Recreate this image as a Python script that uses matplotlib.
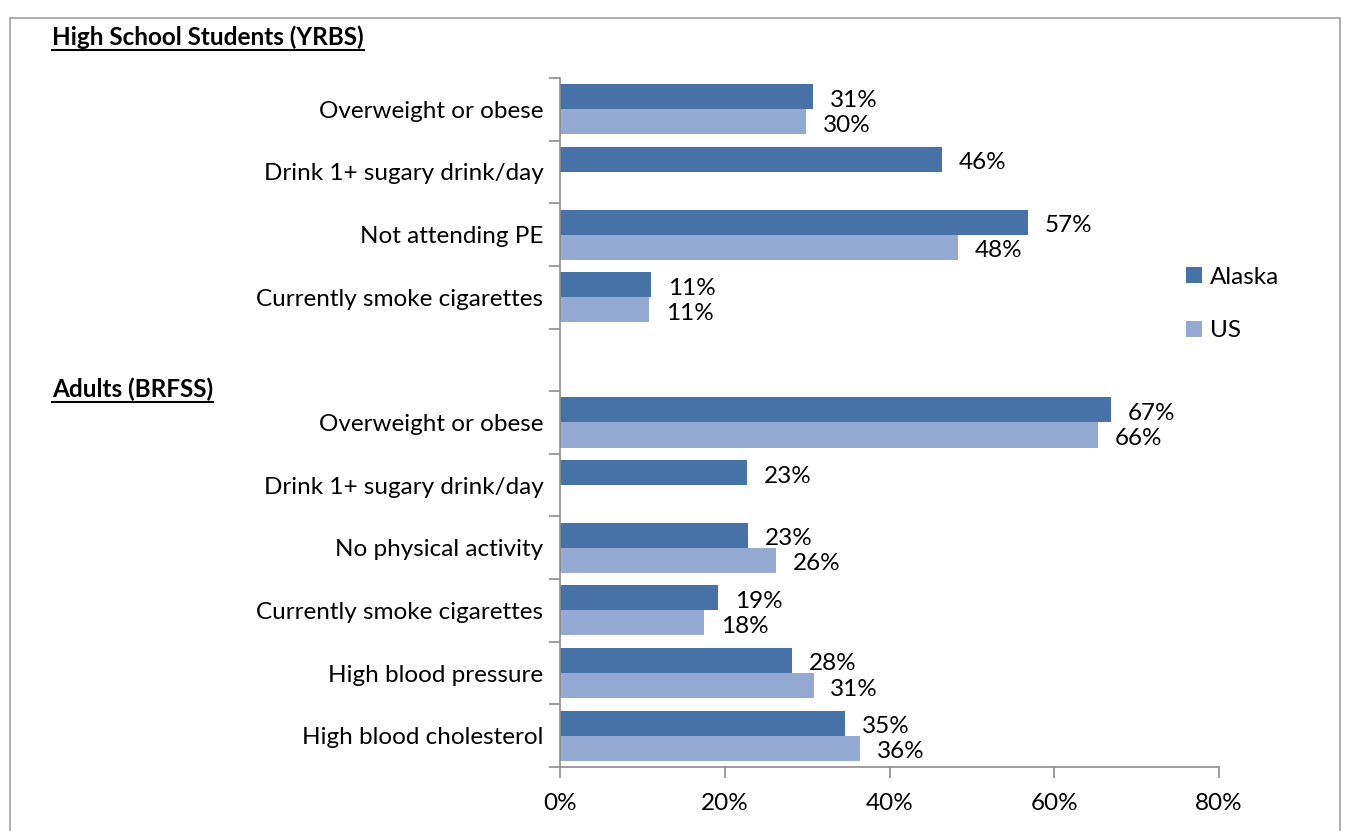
import numpy as np
import matplotlib
matplotlib.use("Agg")
import matplotlib.pyplot as plt
from matplotlib.patches import Rectangle
from matplotlib.lines import Line2D

plt.rcParams["font.family"] = ["Lato", "DejaVu Sans"]

# data (11 slots: 4 high school rows, 1 empty spacer, 6 adult rows)
categories = ["Overweight or obese", "Drink 1+ sugary drink/day", "Not attending PE",
              "Currently smoke cigarettes", "",
              "Overweight or obese", "Drink 1+ sugary drink/day", "No physical activity",
              "Currently smoke cigarettes", "High blood pressure", "High blood cholesterol"]
alaska = [30.7, 46.4, 56.8, 11.1, np.nan, 66.9, 22.7, 22.8, 19.2, 28.2, 34.6]
us = [29.9, np.nan, 48.3, 10.8, np.nan, 65.3, np.nan, 26.2, 17.5, 30.8, 36.4]
alaska_labels = ["31%", "46%", "57%", "11%", "", "67%", "23%", "23%", "19%", "28%", "35%"]
us_labels = ["30%", "", "48%", "11%", "", "66%", "", "26%", "18%", "31%", "36%"]
xticks = [0, 20, 40, 60, 80]
sections = ["High School Students (YRBS)", "Adults (BRFSS)"]

c_ak = "#4672A8"
c_us = "#95AAD3"
grey = "#8C8C8C"
fs = 17.5

fig = plt.figure(figsize=(13.46, 8.31), dpi=100)
ax = fig.add_axes([560/1346, 1-767/831, (1219-560)/1346, (767-78)/831])

y = np.arange(len(categories))
ax.barh(y - 0.2, alaska, height=0.4, color=c_ak, label="Alaska")
ax.barh(y + 0.2, us, height=0.4, color=c_us, label="US")

for yi, v, lab in zip(y, alaska, alaska_labels):
    if lab:
        ax.annotate(lab, (v, yi - 0.2), xytext=(12, -2.5), textcoords="offset points",
                    va="center", ha="left", fontsize=fs)
for yi, v, lab in zip(y, us, us_labels):
    if lab:
        ax.annotate(lab, (v, yi + 0.2), xytext=(12, -2.5), textcoords="offset points",
                    va="center", ha="left", fontsize=fs)

ax.set_xlim(0, 80)
ax.set_ylim(len(categories) - 0.5, -0.5)
ax.set_xticks(xticks)
ax.set_xticklabels([f"{t}%" for t in xticks], fontsize=fs)
ax.set_yticks(np.arange(-0.5, len(categories)), labels=[])
ax.set_yticks(y, labels=categories, minor=True, fontsize=fs)
ax.tick_params(axis="y", which="minor", length=0, pad=12)
ax.tick_params(axis="y", which="major", length=8, color=grey, width=1.2)
ax.tick_params(axis="x", length=8, color=grey, width=1.2, pad=11)
for s in ["top", "right"]:
    ax.spines[s].set_visible(False)
for s in ["left", "bottom"]:
    ax.spines[s].set_color(grey)
    ax.spines[s].set_linewidth(1.2)

ax.legend(loc="center left", bbox_to_anchor=(1164/1346, 1-304/831), bbox_transform=fig.transFigure,
          frameon=False, fontsize=fs, handlelength=0.65, handleheight=0.65, handletextpad=0.35,
          labelspacing=1.33)

# outer chart border
fig.add_artist(Rectangle((10/1346, -0.05), 1330/1346, 1.05 - 18/831, transform=fig.transFigure,
                         fill=False, edgecolor="#A0A0A0", linewidth=1.2))

# underlined section headings
fig.canvas.draw()
renderer = fig.canvas.get_renderer()
for txt, ypx in zip(sections, [37, 389]):
    t = fig.text(52/1346, 1-ypx/831, txt, fontsize=fs, fontweight="bold", va="center", ha="left")
    bb = t.get_window_extent(renderer).transformed(fig.transFigure.inverted())
    fig.add_artist(Line2D([bb.x0, bb.x1], [bb.y0 - 0.002, bb.y0 - 0.002],
                          transform=fig.transFigure, color="black", linewidth=1.5))

fig.savefig("out.png", dpi=100)
